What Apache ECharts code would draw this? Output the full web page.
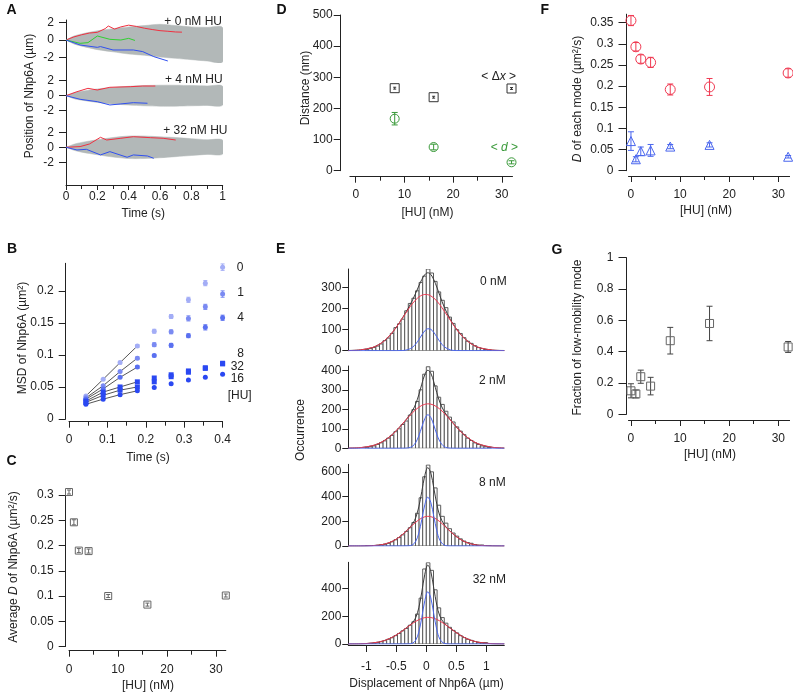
<!DOCTYPE html>
<html><head><meta charset="utf-8">
<script src="https://cdn.jsdelivr.net/npm/echarts@6/dist/echarts.min.js"></script>
<style>html,body{margin:0;padding:0;background:#fff}#c{width:793px;height:692px}</style>
</head><body><div id="c"></div>
<script>
// ---------------- DATA ----------------
// Panel A: envelope of grey trajectories + highlighted traces
const A_T = [0,0.05,0.1,0.2,0.3,0.4,0.5,0.6,0.7,0.8,0.9,1.0];
const A0_UP = [0,0.45,0.7,1.05,1.3,1.5,1.65,1.8,1.65,1.5,1.45,1.4];
const A0_LO = [0,-0.45,-0.7,-1.1,-1.35,-1.6,-1.75,-1.95,-2.1,-2.25,-2.4,-2.5];
const A4_UP = [0,0.4,0.6,0.9,1.1,1.25,1.35,1.4,1.4,1.35,1.3,1.25];
const A4_LO = [0,-0.4,-0.6,-0.9,-1.1,-1.25,-1.35,-1.4,-1.4,-1.35,-1.3,-1.25];
const A32_UP = [0,0.4,0.65,1.0,1.3,1.5,1.5,1.4,1.3,1.15,1.0,0.95];
const A32_LO = [0,-0.4,-0.65,-1.0,-1.3,-1.5,-1.5,-1.4,-1.25,-1.1,-0.95,-0.9];
const A0_RED_T = [0,0.05,0.1,0.15,0.2,0.25,0.27,0.31,0.35,0.4,0.45,0.5,0.55,0.6,0.65,0.7,0.74];
const A0_RED_Y = [0,0.35,0.6,0.8,0.88,1.3,1.6,1.25,1.5,1.7,1.55,1.35,1.2,1.07,1.0,0.92,0.9];
const A0_GRN_T = [0,0.09,0.14,0.2,0.28,0.35,0.4,0.44];
const A0_GRN_Y = [0,-0.38,-0.3,0.46,0.08,0.0,0.19,-0.05];
const A0_BLU_T = [0,0.09,0.2,0.22,0.3,0.43,0.49,0.56,0.65];
const A0_BLU_Y = [0,-0.57,-0.84,-0.75,-1.14,-1.14,-1.33,-1.9,-2.4];
const A4_RED_T = [0,0.07,0.14,0.2,0.28,0.41,0.49,0.57];
const A4_RED_Y = [0,0.53,0.98,0.76,1.12,1.2,1.29,1.29];
const A4_BLU_T = [0,0.09,0.2,0.28,0.35,0.43,0.52];
const A4_BLU_Y = [0,-0.48,-0.8,-1.24,-1.1,-0.93,-1.01];
const A32_RED_T = [0,0.09,0.15,0.22,0.26,0.35,0.43,0.54,0.62,0.7];
const A32_RED_Y = [0,0.09,0.44,1.33,0.97,1.2,1.41,1.28,1.2,0.97];
const A32_BLU_T = [0,0.07,0.13,0.22,0.28,0.39,0.43,0.52,0.56];
const A32_BLU_Y = [0,-0.36,-0.27,-1.02,-0.58,-1.33,-1.02,-1.16,-1.47];

// Panel B: MSD vs time
const B_T = [0.044,0.089,0.133,0.178,0.222,0.266,0.311,0.355,0.4];
const B_0 = [0.036,0.062,0.088,0.114,0.137,0.160,0.186,0.212,0.237];
const B_1 = [0.033,0.052,0.074,0.095,0.116,0.136,0.157,0.175,0.195];
const B_4 = [0.031,0.047,0.065,0.081,0.099,0.115,0.130,0.143,0.158];
const B_8 = [0.028,0.042,0.050,0.058,0.064,0.069,0.075,0.080,0.087];
const B_32 = [0.026,0.037,0.045,0.050,0.058,0.066,0.073,0.079,0.086];
const B_16 = [0.023,0.031,0.038,0.044,0.049,0.055,0.061,0.065,0.070];
const B_ERR_0 = [0.001,0.001,0.002,0.002,0.003,0.003,0.004,0.004,0.005];
const B_ERR_1 = [0.001,0.001,0.001,0.002,0.003,0.003,0.004,0.004,0.005];
const B_ERR_4 = [0.001,0.001,0.001,0.002,0.002,0.003,0.003,0.004,0.004];
const B_LABELS = ['0','1','4','8','32','16','[HU]'];

// Panels C, F, G share HU concentrations
const HU = [0,1,2,4,8,16,32];
const C_D = [0.306,0.246,0.19,0.189,0.1,0.083,0.101];
const C_ERR = [0.004,0.005,0.004,0.004,0.003,0.003,0.003];

// Panel D
const D_HU = [8,16,32];
const D_DX = [265,236,264];
const D_DX_ERR = [3,3,3];
const D_D = [167,76,27];
const D_D_ERR = [20,9,5];

// Panel E: histograms of displacement
const BIN_W = 0.06;
const BIN_C = [-0.99,-0.93,-0.87,-0.81,-0.75,-0.69,-0.63,-0.57,-0.51,-0.45,-0.39,-0.33,-0.27,-0.21,-0.15,-0.09,-0.03,0.03,0.09,0.15,0.21,0.27,0.33,0.39,0.45,0.51,0.57,0.63,0.69,0.75,0.81,0.87,0.93,0.99,1.05];
const E0_H = [6,10,15,22,32,48,60,82,110,128,150,190,225,250,285,325,355,389,370,330,280,240,205,160,130,100,82,62,45,35,24,15,10,6,3];
const E2_H = [5,8,12,20,28,38,52,66,85,100,122,140,170,198,240,300,380,418,395,320,262,225,190,160,135,110,88,70,52,40,28,20,12,8,4];
const E8_H = [0,2,3,5,9,14,22,34,50,68,90,118,148,190,265,390,560,655,600,470,330,240,185,140,105,80,58,40,28,22,12,6,8,3,1];
const E32_H = [2,4,6,10,16,24,34,45,60,76,95,112,135,160,215,330,540,585,530,390,260,190,150,120,98,80,60,46,34,26,18,12,8,10,3];
const CURVE_X = [-1.3,-1.1,-0.9,-0.8,-0.7,-0.6,-0.5,-0.4,-0.3,-0.225,-0.175,-0.125,-0.075,-0.025,0.025,0.075,0.125,0.175,0.225,0.3,0.4,0.5,0.6,0.7,0.8,0.9,1.1,1.3];
const E0_RED = [0.6,3.5,14.9,27.5,47.1,75.3,111.6,153.9,197.2,226.4,242.6,255.4,263.9,267.8,266.8,261,250.8,236.5,219.1,188.7,145.1,103.7,68.9,42.6,24.4,13.1,3,0.5];
const E0_BLUE = [0,0,0,0,0,0,0,0.8,5.5,17.5,32.3,52.4,74.9,94.3,104.4,101.8,87.3,66,43.9,18.7,3.9,0.5,0,0,0,0,0,0];
const E0_FIT = [1,4,15,28,47,75,112,155,203,244,275,308,339,362,371,363,338,303,263,207,149,104,69,43,24,13,3,1];
const E2_RED = [0.7,3.4,13.2,23.6,39.5,61.8,90.5,124.1,159.4,184.1,198.6,210.7,219.9,225.7,228,226.5,221.3,212.8,201.2,179.4,145.3,110.1,78.3,52,32.4,18.9,5.3,1.1];
const E2_BLUE = [0,0,0,0,0,0,0,0.1,1.9,11.7,30.3,63.7,109,151.8,172,158.2,118.5,72.1,35.7,8.5,0.6,0,0,0,0,0,0,0];
const E2_FIT = [1,3,13,24,40,62,91,124,161,196,229,274,329,378,400,385,340,285,237,188,146,110,78,52,32,19,5,1];
const E8_RED = [0,0.3,2.7,6.7,15,30.4,55.7,91.7,136.2,171.1,192.9,211.8,226.6,236.3,240,237.5,229,215.1,196.9,164.2,117.7,76.1,44.3,23.2,11,4.7,0.6,0];
const E8_BLUE = [0,0,0,0,0,0,0,0,1,10.8,38.5,104.4,214.4,334,395,353.1,239.6,123.5,48.1,7,0.2,0,0,0,0,0,0,0];
const E8_FIT = [0,0,3,7,15,30,56,92,137,182,231,316,441,570,635,591,469,339,245,171,118,76,44,23,11,5,1,0];
const E32_RED = [0.2,1.4,6.8,13.5,24.6,41.5,65,94.1,126.2,149.4,163.3,175,184,189.8,192,190.5,185.4,177,165.8,144.9,113.2,81.9,54.8,34,19.5,10.4,2.3,0.4];
const E32_BLUE = [0,0,0,0,0,0,0,0,0.5,6.8,28.1,85.3,190.4,312,376,331.8,215.4,102.7,36,4.2,0,0,0,0,0,0,0,0];
const E32_FIT = [0,1,7,14,25,42,65,94,127,156,191,260,374,502,568,522,401,280,202,149,113,82,55,34,20,10,2,0];

// Panel F
const F_HIGH = [0.355,0.293,0.264,0.256,0.192,0.198,0.231];
const F_HIGH_ERR = [0.012,0.01,0.01,0.012,0.013,0.02,0.01];
const F_LOW = [0.07,0.027,0.046,0.048,0.057,0.061,0.033];
const F_LOW_ERR = [0.022,0.006,0.01,0.014,0.005,0.005,0.003];

// Panel G
const G_FRAC = [0.15,0.13,0.24,0.18,0.47,0.58,0.43];
const G_ERR = [0.045,0.025,0.042,0.056,0.085,0.11,0.035];

// ---------------- BUILD ----------------
const FONT = '"Liberation Sans", Arial, sans-serif';
const INK = '#222';
const RED = '#f03a52', BLUE = '#4a66ee', GREEN = '#3a9a3a', GREY = '#666';
const grids = [], xAxes = [], yAxes = [], series = [], graphics = [];

function axis(gi, pos, o) {
  return {
    type: 'value', gridIndex: gi, position: pos, min: o.min, max: o.max, offset: o.offset || 0,
    show: o.show !== false, silent: true,
    axisLine: {show: true, onZero: false, lineStyle: {color: INK, width: 1}},
    axisTick: {show: true, inside: false, length: o.tickLen || 6, customValues: o.ticks, lineStyle: {color: INK, width: 1}},
    axisLabel: {show: true, color: INK, fontSize: 12, fontFamily: FONT, margin: o.margin || 7,
      customValues: o.labels || o.ticks, hideOverlap: false},
    splitLine: {show: false}, minorTick: {show: false}, minorSplitLine: {show: false}
  };
}
function minorAxis(gi, pos, o) {
  return {
    type: 'value', gridIndex: gi, position: pos, min: o.min, max: o.max, offset: o.offset || 0, silent: true,
    axisLine: {show: false, onZero: false},
    axisTick: {show: true, inside: false, length: 4, customValues: o.minor, lineStyle: {color: INK, width: 1}},
    axisLabel: {show: false}, splitLine: {show: false}
  };
}
function panel(box, xo, yo) {
  const gi = grids.length;
  grids.push({left: box.l, top: box.t, width: box.w, height: box.h, containLabel: false, outerBoundsMode: 'none', show: false});
  const xi = xAxes.length;
  xAxes.push(axis(gi, 'bottom', xo));
  if (xo.minor && xo.show !== false) xAxes.push(minorAxis(gi, 'bottom', xo));
  const yi = yAxes.length;
  yAxes.push(axis(gi, 'left', yo));
  return {xi, yi};
}
function pairs(xs, ys) { return xs.map((x, i) => [x, ys[i]]); }
function lineS(p, xs, ys, color, opt) {
  series.push(Object.assign({type: 'line', xAxisIndex: p.xi, yAxisIndex: p.yi, data: pairs(xs, ys),
    showSymbol: false, symbol: 'none', silent: true, animation: false, clip: true,
    lineStyle: {color, width: 1}, itemStyle: {color}, z: 3}, opt || {}));
}
function fan(p, t, up, lo, color) {
  series.push({type: 'custom', xAxisIndex: p.xi, yAxisIndex: p.yi, silent: true, clip: true, z: 1,
    data: [[t[0], up[0]]], encode: {x: 0, y: 1},
    renderItem: (params, api) => {
      const pts = [];
      for (let i = 0; i < t.length; i++) pts.push(api.coord([t[i], up[i]]));
      for (let i = t.length - 1; i >= 0; i--) pts.push(api.coord([t[i], lo[i]]));
      return {type: 'polygon', shape: {points: pts, smooth: 0.3}, style: {fill: color, stroke: color, lineWidth: 0.5}};
    }});
}
function scatterS(p, xs, ys, symbol, size, color, hollow, z) {
  series.push({type: 'scatter', xAxisIndex: p.xi, yAxisIndex: p.yi, data: pairs(xs, ys), symbol, symbolSize: size,
    silent: true, animation: false, z: z || 5,
    itemStyle: hollow ? {color: 'rgba(255,255,255,0)', borderColor: color, borderWidth: 1, opacity: 1}
                      : {color, opacity: 1, borderWidth: 0}});
}
function errS(p, xs, ys, es, color, cap) {
  series.push({type: 'custom', xAxisIndex: p.xi, yAxisIndex: p.yi, silent: true, z: 4,
    data: xs.map((x, i) => [x, ys[i], es[i]]), encode: {x: 0, y: 1},
    renderItem: (params, api) => {
      const x = api.value(0), y = api.value(1), e = api.value(2);
      const a = api.coord([x, y + e]), b = api.coord([x, y - e]);
      const st = {stroke: color, lineWidth: 1};
      const ch = [{type: 'line', shape: {x1: a[0], y1: a[1], x2: b[0], y2: b[1]}, style: st}];
      if (cap > 0) {
        ch.push({type: 'line', shape: {x1: a[0] - cap, y1: a[1], x2: a[0] + cap, y2: a[1]}, style: st});
        ch.push({type: 'line', shape: {x1: b[0] - cap, y1: b[1], x2: b[0] + cap, y2: b[1]}, style: st});
      }
      return {type: 'group', children: ch};
    }});
}
function histS(p, centers, counts) {
  series.push({type: 'custom', xAxisIndex: p.xi, yAxisIndex: p.yi, silent: true, clip: true, z: 2,
    data: pairs(centers, counts), encode: {x: 0, y: 1},
    renderItem: (params, api) => {
      const c = api.value(0), n = api.value(1);
      const a = api.coord([c - BIN_W / 2, n]), b = api.coord([c + BIN_W / 2, 0]);
      return {type: 'rect', shape: {x: a[0], y: a[1], width: b[0] - a[0], height: b[1] - a[1]},
        style: {fill: '#fff', stroke: '#5a5a5a', lineWidth: 1}};
    }});
}
function txt(x, y, text, o) {
  o = o || {};
  const fs = o.size || 12;
  const style = {text, x: 0, y: 0, fill: o.color || INK, fontSize: fs, fontFamily: FONT,
    fontWeight: o.bold ? 'bold' : 'normal',
    align: o.align || 'center', textAlign: o.align || 'center',
    verticalAlign: o.valign || 'middle', textVerticalAlign: o.valign || 'middle'};
  if (o.rich) style.rich = o.rich;
  graphics.push({type: 'text', x, y, rotation: o.rot || 0, z: 100, silent: true, style});
}
const ITAL = (c) => ({i: {fontStyle: 'italic', fontSize: 12, fontFamily: FONT, fill: c || INK}});

// ----- Panel A -----
const aX = {min: 0, max: 1, show: false};
const pA1 = panel({l: 66, t: 20, w: 156.7, h: 43}, aX, {min: -2.63, max: 2.29, ticks: [-2, 0, 2], tickLen: 7, margin: 12});
const pA2 = panel({l: 66, t: 63, w: 156.7, h: 62}, aX, {min: -3.91, max: 4.36, ticks: [-2, 0, 2], tickLen: 7, margin: 12});
const pA3 = panel({l: 66, t: 125, w: 156.7, h: 60},
  {min: 0, max: 1, ticks: [0, 0.2, 0.4, 0.6, 0.8, 1], minor: [0.1, 0.3, 0.5, 0.7, 0.9], tickLen: 5, margin: 6},
  {min: -5.03, max: 2.97, ticks: [-2, 0, 2], tickLen: 7, margin: 12});
const FAN = '#b2b8b8';
fan(pA1, A_T, A0_UP, A0_LO, FAN);
fan(pA2, A_T, A4_UP, A4_LO, FAN);
fan(pA3, A_T, A32_UP, A32_LO, FAN);
lineS(pA1, A0_RED_T, A0_RED_Y, '#f03040');
lineS(pA1, A0_GRN_T, A0_GRN_Y, '#30d030');
lineS(pA1, A0_BLU_T, A0_BLU_Y, '#3050f0');
lineS(pA2, A4_RED_T, A4_RED_Y, '#f03040');
lineS(pA2, A4_BLU_T, A4_BLU_Y, '#3050f0');
lineS(pA3, A32_RED_T, A32_RED_Y, '#f03040');
lineS(pA3, A32_BLU_T, A32_BLU_Y, '#3050f0');
txt(222, 21.7, '+ 0 nM HU', {align: 'right'});
txt(222.7, 79.5, '+ 4 nM HU', {align: 'right'});
txt(227.5, 131, '+ 32 nM HU', {align: 'right'});
txt(30, 96, 'Position of Nhp6A (µm)', {rot: Math.PI / 2});
txt(143.3, 213.3, 'Time (s)');

// ----- Panel B -----
const pB = panel({l: 69, t: 263.3, w: 153.6, h: 155.7},
  {min: 0, max: 0.4, offset: 2.7, ticks: [0, 0.1, 0.2, 0.3, 0.4], minor: [0.05, 0.15, 0.25, 0.35], tickLen: 6, margin: 12},
  {min: 0, max: 0.243, offset: 3.3, ticks: [0, 0.05, 0.1, 0.15, 0.2], tickLen: 7, margin: 12});
const bSeries = [[B_0, '#a3adf6', B_ERR_0], [B_1, '#7a8af2', B_ERR_1], [B_4, '#5a70f0', B_ERR_4],
                 [B_8, '#2a48f2', null], [B_32, '#2a48f2', null], [B_16, '#2a48f2', null]];
bSeries.forEach(([ys, col, er]) => {
  lineS(pB, B_T.slice(0, 4), ys.slice(0, 4), '#555', {z: 3});
});
bSeries.forEach(([ys, col, er], k) => {
  if (er) errS(pB, B_T, ys, er, col, 2);
  scatterS(pB, B_T, ys, (k === 3 || k === 4) ? 'rect' : 'circle', 5, col, false, 6);
});
const bLabY = [267.7, 292.7, 317.3, 354, 366.7, 379, 395.7];
const bLabX = [240, 240.7, 240.7, 240.7, 237.3, 237.3, 239.7];
B_LABELS.forEach((s, i) => txt(bLabX[i], bLabY[i], s));
txt(23, 338, 'MSD of Nhp6A (µm²)', {rot: Math.PI / 2});
txt(148, 457.7, 'Time (s)');

// ----- Panel C -----
const hx = (off, margin) => ({min: 0, max: 32, offset: off, ticks: [0, 10, 20, 30], minor: [5, 15, 25], tickLen: 6, margin});
const pC = panel({l: 69, t: 490, w: 156.8, h: 156.5}, hx(4.2, 13),
  {min: 0, max: 0.31, offset: 3.3, ticks: [0, 0.05, 0.1, 0.15, 0.2, 0.25, 0.3], tickLen: 7, margin: 12});
errS(pC, HU, C_D, C_ERR, GREY, 2);
scatterS(pC, HU, C_D, 'rect', 7, GREY, true);
txt(13.3, 567, 'Average {i|D} of Nhp6A (µm²/s)', {rot: Math.PI / 2, rich: ITAL()});
txt(148, 686, '[HU] (nM)');

// ----- Panel D -----
const pD = panel({l: 349.9, t: 15, w: 162.6, h: 155.7},
  {min: -1.2, max: 32.2, offset: 6, ticks: [0, 10, 20, 30], minor: [5, 15, 25], tickLen: 6, margin: 12},
  {min: 0, max: 500, offset: 9.2, ticks: [0, 100, 200, 300, 400, 500], tickLen: 7, margin: 8});
errS(pD, D_HU, D_DX, D_DX_ERR, '#333', 1.5);
scatterS(pD, D_HU, D_DX, 'rect', 9, '#333', true);
errS(pD, D_HU, D_D, D_D_ERR, GREEN, 3);
scatterS(pD, D_HU, D_D, 'circle', 9, GREEN, true);
txt(516, 76.7, '< Δ{i|x} >', {align: 'right', rich: ITAL()});
txt(518, 147.7, '< {i|d} >', {align: 'right', color: GREEN, rich: ITAL(GREEN)});
txt(305.7, 88, 'Distance (nm)', {rot: Math.PI / 2});
txt(427.5, 213, '[HU] (nM)');

// ----- Panel E -----
const eX = {min: -1.3, max: 1.3, show: false};
const eBoxes = [
  {t: 269, h: 81.7, max: 389, ticks: [0, 100, 200, 300]},
  {t: 366, h: 82.3, max: 422, ticks: [0, 100, 200, 300, 400]},
  {t: 464.3, h: 81.7, max: 661, ticks: [0, 200, 400, 600]},
  {t: 562.3, h: 81.7, max: 588, ticks: [0, 200, 400]}
];
const eData = [[E0_H, E0_RED, E0_BLUE, E0_FIT], [E2_H, E2_RED, E2_BLUE, E2_FIT],
               [E8_H, E8_RED, E8_BLUE, E8_FIT], [E32_H, E32_RED, E32_BLUE, E32_FIT]];
eBoxes.forEach((b, k) => {
  const xo = k === 3 ? {min: -1.3, max: 1.3, offset: 1, ticks: [-1, -0.5, 0, 0.5, 1], tickLen: 7, margin: 16} : eX;
  const p = panel({l: 348.3, t: b.t, w: 156, h: b.h}, xo, {min: 0, max: b.max, ticks: b.ticks, tickLen: 6, margin: 7});
  const [h, r, bl, f] = eData[k];
  histS(p, BIN_C, h);
  lineS(p, CURVE_X, f, '#3a3a3a', {smooth: 0.35, z: 3});
  lineS(p, CURVE_X, r, RED, {smooth: 0.35, z: 4});
  lineS(p, CURVE_X, bl, BLUE, {smooth: 0.35, z: 5});
});
txt(506.7, 281.7, '0 nM', {align: 'right'});
txt(505.7, 380.7, '2 nM', {align: 'right'});
txt(505.7, 482.3, '8 nM', {align: 'right'});
txt(506, 580, '32 nM', {align: 'right'});
txt(300.5, 430, 'Occurrence', {rot: Math.PI / 2});
txt(426.5, 684, 'Displacement of Nhp6A (µm)');

// ----- Panel F -----
const fgx = (off) => ({min: -0.5, max: 32.3, offset: off, ticks: [0, 10, 20, 30], minor: [5, 15, 25], tickLen: 6, margin: 13});
const pF = panel({l: 628.5, t: 14.2, w: 161.1, h: 156.5}, fgx(5.3),
  {min: 0, max: 0.37, offset: 2, ticks: [0, 0.05, 0.1, 0.15, 0.2, 0.25, 0.3, 0.35], tickLen: 8, margin: 13});
errS(pF, HU, F_HIGH, F_HIGH_ERR, RED, 3);
scatterS(pF, HU, F_HIGH, 'circle', 10, RED, true);
errS(pF, HU, F_LOW, F_LOW_ERR, BLUE, 3);
scatterS(pF, HU, F_LOW, 'triangle', 9, BLUE, true);
txt(578, 99, '{i|D} of each mode (µm²/s)', {rot: Math.PI / 2, rich: ITAL()});
txt(706, 211, '[HU] (nM)');

// ----- Panel G -----
const pG = panel({l: 628.5, t: 257.7, w: 161.1, h: 156.6}, fgx(5.7),
  {min: 0, max: 1, offset: 2, ticks: [0, 0.2, 0.4, 0.6, 0.8, 1], tickLen: 8, margin: 13});
errS(pG, HU, G_FRAC, G_ERR, '#444', 3);
scatterS(pG, HU, G_FRAC, 'rect', 8, GREY, true);
txt(577.7, 337.5, 'Fraction of low-mobility mode', {rot: Math.PI / 2});
txt(710, 455, '[HU] (nM)');

// Panel letters
[['A', 6.5, 3], ['B', 7, 242.5], ['C', 6.5, 453.8], ['D', 276.5, 3], ['E', 276, 242.5], ['F', 540.5, 3], ['G', 551.5, 243]]
  .forEach(([s, x, y]) => txt(x, y, s, {align: 'left', valign: 'top', bold: true, size: 14, color: '#111'}));

const chart = echarts.init(document.getElementById('c'), null, {renderer: 'canvas', width: 793, height: 692});
chart.setOption({
  animation: false,
  backgroundColor: '#fff',
  grid: grids, xAxis: xAxes, yAxis: yAxes, series, graphic: graphics
});
</script>
</body></html>
